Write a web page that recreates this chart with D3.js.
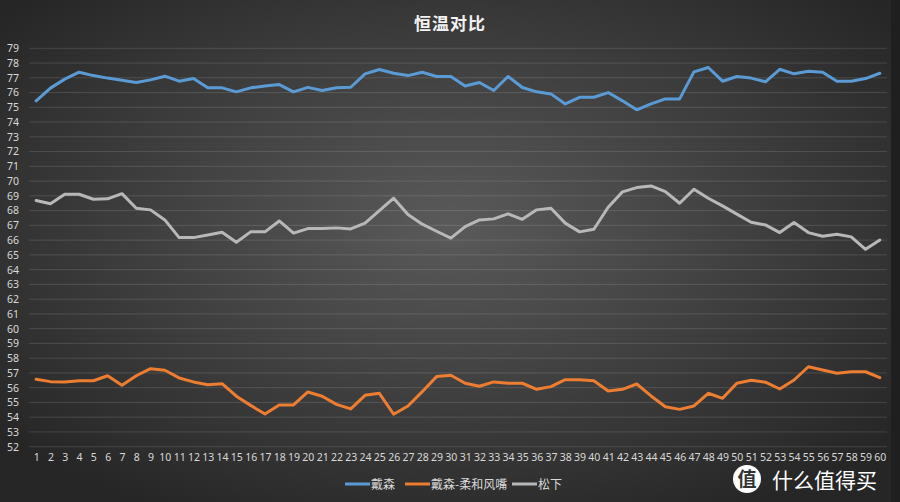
<!DOCTYPE html>
<html>
<head>
<meta charset="utf-8">
<script src="https://cdn.jsdelivr.net/npm/d3@7"></script>
<style>
  html, body { margin: 0; padding: 0; background: #2b2b2b; }
  svg { display: block; }
</style>
</head>
<body>
<svg id="chart" width="900" height="502"></svg>
<script>
const categories = d3.range(1, 61);
const yTicks = d3.range(52, 80);

const dyson = [
  75.44, 76.3, 76.91, 77.38, 77.15, 76.98, 76.84, 76.68, 76.86, 77.11,
  76.77, 76.95, 76.32, 76.32, 76.05, 76.32, 76.45, 76.54, 76.05, 76.35,
  76.14, 76.32, 76.36, 77.27, 77.56, 77.31, 77.15, 77.38, 77.09, 77.09,
  76.45, 76.68, 76.14, 77.09, 76.34, 76.05, 75.91, 75.23, 75.68, 75.68,
  76.0, 75.44, 74.83, 75.23, 75.57, 75.57, 77.4, 77.7, 76.77, 77.09,
  76.98, 76.73, 77.58, 77.27, 77.45, 77.38, 76.77, 76.77, 76.95, 77.31
];
const dysonSoft = [
  56.57, 56.41, 56.39, 56.47, 56.47, 56.81, 56.16, 56.81, 57.29, 57.18,
  56.66, 56.39, 56.2, 56.27, 55.42, 54.8, 54.22, 54.83, 54.83, 55.71,
  55.42, 54.87, 54.56, 55.48, 55.62, 54.2, 54.76, 55.73, 56.75, 56.84,
  56.3, 56.1, 56.39, 56.3, 56.3, 55.89, 56.07, 56.54, 56.54, 56.47,
  55.78, 55.89, 56.25, 55.44, 54.71, 54.53, 54.76, 55.62, 55.28, 56.3,
  56.5, 56.37, 55.91, 56.52, 57.42, 57.2, 56.98, 57.08, 57.08, 56.68
];
const panasonic = [
  68.68, 68.47, 69.11, 69.11, 68.77, 68.8, 69.15, 68.16, 68.05, 67.37,
  66.17, 66.17, 66.35, 66.53, 65.86, 66.56, 66.56, 67.3, 66.47, 66.78,
  66.78, 66.83, 66.76, 67.15, 68.0, 68.84, 67.73, 67.08, 66.6, 66.13,
  66.92, 67.37, 67.44, 67.78, 67.41, 68.05, 68.16, 67.15, 66.56, 66.74,
  68.23, 69.27, 69.56, 69.67, 69.29, 68.5, 69.45, 68.84, 68.32, 67.76,
  67.21, 67.03, 66.51, 67.19, 66.51, 66.26, 66.4, 66.22, 65.38, 66.01
];

const seriesNames = ['戴森', '戴森-柔和风嘴', '松下'];
const seriesData = [dyson, dysonSoft, panasonic];
const colors = ['#5b9bd5', '#ed7d31', '#b8b8b8'];

const svg = d3.select('#chart');
const width = 900, height = 502;
const plot = { left: 29, right: 887, top: 48.3, bottom: 446.7 };

// background
const defs = svg.append('defs');
const grad = defs.append('radialGradient')
    .attr('id', 'bg')
    .attr('cx', '50%').attr('cy', '45%').attr('r', '65%');
grad.append('stop').attr('offset', '0%').attr('stop-color', '#5a5a5a');
grad.append('stop').attr('offset', '100%').attr('stop-color', '#262626');

svg.append('rect')
    .attr('width', width).attr('height', height)
    .attr('fill', 'url(#bg)');
svg.append('rect')
    .attr('x', 891).attr('width', 9).attr('height', height)
    .attr('fill', '#1f1f1f');

const x = d3.scalePoint()
    .domain(categories)
    .range([plot.left, plot.right])
    .padding(0.5);
const y = d3.scaleLinear()
    .domain([52, 79])
    .range([plot.bottom, plot.top]);

// gridlines
svg.append('g')
    .selectAll('line')
    .data(yTicks)
    .join('line')
      .attr('x1', plot.left)
      .attr('x2', plot.right)
      .attr('y1', d => y(d))
      .attr('y2', d => y(d))
      .attr('stroke', 'rgba(255,255,255,0.13)')
      .attr('stroke-width', 1);

// y axis labels
const yAxis = svg.append('g')
    .attr('transform', `translate(${plot.left - 10},0)`)
    .call(d3.axisLeft(y).tickValues(yTicks).tickSize(0).tickPadding(0));
yAxis.select('.domain').remove();
yAxis.selectAll('text')
    .attr('fill', '#d9d9d9')
    .attr('font-family', '"Noto Sans", "DejaVu Sans", sans-serif')
    .attr('font-size', 10.5);

// x axis labels
const xAxis = svg.append('g')
    .attr('transform', `translate(0,${plot.bottom + 7})`)
    .call(d3.axisBottom(x).tickSize(0).tickPadding(0));
xAxis.select('.domain').remove();
xAxis.selectAll('text')
    .attr('fill', '#d9d9d9')
    .attr('font-family', '"Noto Sans", "DejaVu Sans", sans-serif')
    .attr('font-size', 10.5);

// lines
const line = d3.line()
    .x((d, i) => x(categories[i]))
    .y(d => y(d));

svg.append('g')
    .selectAll('path')
    .data(seriesData)
    .join('path')
      .attr('fill', 'none')
      .attr('stroke', (d, i) => colors[i])
      .attr('stroke-width', 3)
      .attr('stroke-linejoin', 'round')
      .attr('stroke-linecap', 'round')
      .attr('d', line);

// title
svg.append('text')
    .attr('x', 450)
    .attr('y', 30)
    .attr('text-anchor', 'middle')
    .attr('fill', '#f2f2f2')
    .attr('font-family', '"Noto Sans CJK SC", sans-serif')
    .attr('font-weight', 'bold')
    .attr('font-size', 17)
    .attr('letter-spacing', 1)
    .text('恒温对比');

// legend
const legendX = [345, 405, 512];
const legend = svg.append('g')
    .selectAll('g')
    .data(seriesNames)
    .join('g')
      .attr('transform', (d, i) => `translate(${legendX[i]},484)`);
legend.append('line')
    .attr('x1', 0).attr('x2', 25)
    .attr('stroke', (d, i) => colors[i])
    .attr('stroke-width', 3);
legend.append('text')
    .attr('x', 26)
    .attr('y', 4.5)
    .attr('fill', '#d9d9d9')
    .attr('font-family', '"Noto Sans CJK SC", sans-serif')
    .attr('font-size', 12)
    .text(d => d);

// watermark
const wm = svg.append('g').attr('transform', 'translate(747,479)');
wm.append('circle').attr('r', 14).attr('fill', '#ffffff');
wm.append('text')
    .attr('y', 7)
    .attr('text-anchor', 'middle')
    .attr('fill', '#333333')
    .attr('font-family', '"Noto Sans CJK SC", sans-serif')
    .attr('font-weight', 'bold')
    .attr('font-size', 19)
    .text('值');
svg.append('text')
    .attr('x', 772)
    .attr('y', 488)
    .attr('fill', '#ffffff')
    .attr('font-family', '"Noto Sans CJK SC", sans-serif')
    .attr('font-size', 21)
    .text('什么值得买');
</script>
</body>
</html>
